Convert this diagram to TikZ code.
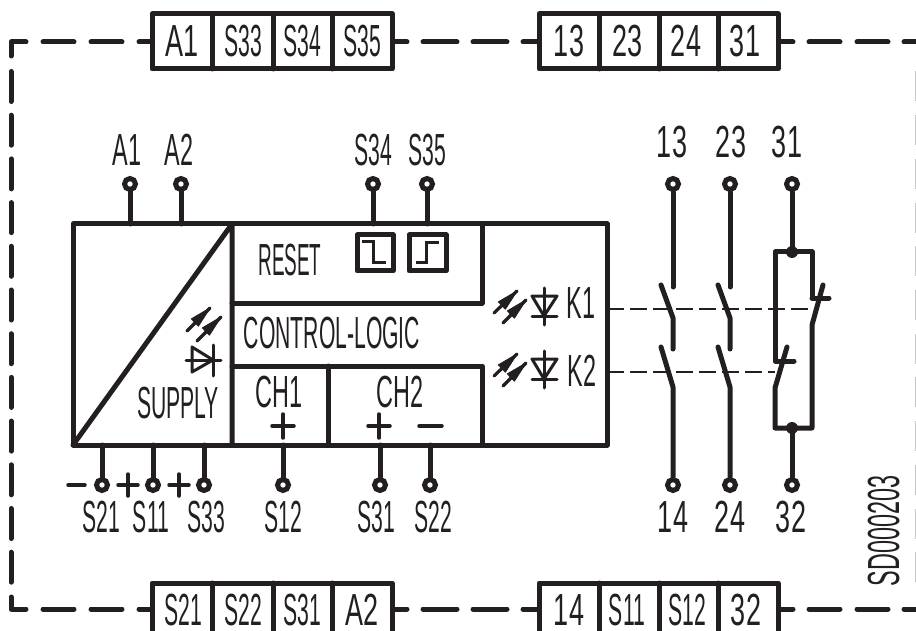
\documentclass[tikz,border=0pt]{standalone}
\usepackage{fontspec}
\newfontfamily\fa[FakeStretch=0.47]{Liberation Sans}
\newfontfamily\fb[FakeStretch=0.52]{Liberation Sans}
\newfontfamily\fc[FakeStretch=0.60]{Liberation Sans}
\newfontfamily\fd[FakeStretch=0.42]{Liberation Sans}
\definecolor{ink}{HTML}{231F20}
\tikzset{
  wire/.style={line width=5pt,line cap=round,line join=round,draw=ink},
  thin wire/.style={line width=3.5pt,line cap=round,line join=round,draw=ink},
  diode/.style={line width=3pt,line cap=round,line join=round,draw=ink},
  frame/.style={line width=5pt,line cap=round,line join=round,draw=ink},
  term/.style={circle,draw=ink,fill=white,line width=5pt,minimum size=11pt,inner sep=0pt},
  ttA/.style={inner sep=0pt,anchor=base,text=ink,font=\fa\fontsize{45}{45}\selectfont},
  ttB/.style={inner sep=0pt,anchor=base,text=ink,font=\fb\fontsize{45}{45}\selectfont},
  ttC/.style={inner sep=0pt,anchor=base,text=ink,font=\fc\fontsize{45}{45}\selectfont},
  ttD/.style={inner sep=0pt,anchor=base,text=ink,font=\fd\fontsize{45}{45}\selectfont},
  coupling/.style={line width=2.4pt,draw=ink,dash pattern=on 17pt off 6pt},
  border/.style={line width=5pt,line cap=round,line join=round,draw=ink},
  ghost/.style={line width=1.5pt,draw=black!22},
}
\newcommand{\ledarrow}[4]{%
  \draw[line width=3.2pt,line cap=round,draw=ink] (#1,#2) -- (#3,#4);
  \fill[ink,draw=ink,line width=1pt,line join=round] (#3,#4)
    -- (#3-11.6,#4+18.1)
    -- (#3-18.6,#4+10.9) -- cycle;
}
\begin{document}
\begin{tikzpicture}[x=1pt,y=-1pt]
\useasboundingbox (0,0) rectangle (916,631);
\clip (0,0) rectangle (916,631);
% dashed outer border
\coordinate (tl) at (11,42);
\coordinate (bl) at (11,609);
\draw[border] (26,42) -- (tl) -- (11,56);
\foreach \a/\b in {43/74,91/122,139/152,392/407,423/457,473/507,523/539,778/793,809/840,857/888,904/918}{
  \draw[border] (\a,42) -- (\b,42);
  \draw[border] (\a,609) -- (\b,609);
}
\foreach \i in {0,...,11}{
  \draw[border] (11,71.5+43.7*\i) -- (11,101.5+43.7*\i);
  \draw[ghost] (915.5,71.5+43.7*\i) -- (915.5,101.5+43.7*\i);
}
\draw[border] (11,597) -- (bl) -- (26,609);
% terminal strips
\draw[frame,fill=white] (152,14) rectangle (392,69);
\draw[frame,fill=white] (539,14) rectangle (778,69);
\draw[frame,fill=white] (152,583) rectangle (392,650);
\draw[frame,fill=white] (539,583) rectangle (778,650);
\foreach \x in {212,273,332,599,659,718}{
  \draw[frame] (\x,14) -- (\x,69);
  \draw[frame] (\x,583) -- (\x,650);
}
\node[ttC] (sA1) at (182,57) {A1};
\node[ttA] (sS33) at (243,57) {S33};
\node[ttA] (sS34) at (302,57) {S34};
\node[ttA] (sS35) at (362,57) {S35};
\node[ttC] (s13) at (569,57) {13};
\node[ttC] (s23) at (627.5,57) {23};
\node[ttC] (s24) at (686,57) {24};
\node[ttC] (s31) at (745,57) {31};
\node[ttA] (sS21) at (183,625) {S21};
\node[ttA] (sS22) at (243,625) {S22};
\node[ttA] (sS31) at (302,625) {S31};
\node[ttC] (sA2) at (362,625) {A2};
\node[ttC] (s14) at (569,625) {14};
\node[ttA] (sS11) at (627,625) {S11};
\node[ttA] (sS12) at (687,625) {S12};
\node[ttC] (s32) at (746,625) {32};
% main block
\draw[wire] (73,224) rectangle (607,445);
\draw[wire] (73,445) -- (232,224) -- (232,445);
\draw[wire] (232,303) -- (482,303) -- (482,224);
\draw[wire] (232,366) -- (482,366) -- (482,445);
\draw[wire] (328,366) -- (328,445);
% terminals
\foreach \n/\x in {A1/130,A2/181,S34/373,S35/427}{
  \draw[wire] (\x,184) -- (\x,224);
  \node[term] (t\n) at (\x,184) {};
}
\foreach \n/\x in {S21/102,S11/153,S33/204,S12/283,S31/380,S22/430}{
  \draw[wire] (\x,485) -- (\x,445);
  \node[term] (t\n) at (\x,485) {};
}
% labels
\node[ttB] (lA1) at (127,166) {A1};
\node[ttB] (lA2) at (179,166) {A2};
\node[ttA] (lS34) at (373,166) {S34};
\node[ttA] (lS35) at (427,166) {S35};
\node[ttC] (l13) at (672,158) {13};
\node[ttC] (l23) at (731,158) {23};
\node[ttC] (l31) at (787,158) {31};
\node[ttA] (lS21) at (101,532) {S21};
\node[ttA] (lS11) at (151,532) {S11};
\node[ttA] (lS33) at (206,532) {S33};
\node[ttA] (lS12) at (283,532) {S12};
\node[ttA] (lS31) at (376,532) {S31};
\node[ttA] (lS22) at (433,532) {S22};
\node[ttC] (l14) at (673,532) {14};
\node[ttC] (l24) at (730,532) {24};
\node[ttC] (l32) at (791,532) {32};
\node[ttB,rotate=90] (code) at (899,531) {SD000203};
\node[ttD] (reset) at (290,276) {RESET};
\node[ttA] (logic) at (332,348) {CONTROL-LOGIC};
\node[ttA] (supply) at (178,418) {SUPPLY};
\node[ttB] (ch1) at (279,407) {CH1};
\node[ttB] (ch2) at (400,407) {CH2};
\node[ttB] (k1) at (581,318) {K1};
\node[ttB] (k2) at (582,386) {K2};
% plus and minus
\draw[thin wire] (272,426) -- (294,426) (283,414) -- (283,438);
\draw[thin wire] (368,426) -- (390,426) (379,414) -- (379,438);
\draw[thin wire] (419,426) -- (442,426);
\draw[thin wire] (68,485) -- (85,485);
\draw[thin wire] (118,485) -- (138,485) (128,474) -- (128,496);
\draw[thin wire] (169,485) -- (189,485) (179,474) -- (179,496);
% reset symbols
\draw[frame] (357,235) rectangle (393,271);
\draw[frame] (409,235) rectangle (446,271);
\draw[line width=3pt,draw=ink] (362,242) -- (373,242) -- (373,263) -- (386,263);
\draw[line width=3pt,draw=ink] (416,263) -- (426,263) -- (426,243) -- (439,243);
% LEDs in the supply part
\ledarrow{187}{331}{210}{308}
\ledarrow{197}{341}{221}{317}
\draw[diode] (186,360) -- (221,360);
\draw[diode] (192,347) -- (192,372) -- (213,360) -- cycle;
\draw[diode] (213,345) -- (213,376);
% LEDs K1 K2
\foreach \d in {0,63}{
  \ledarrow{494}{313+\d}{517}{291+\d}
  \ledarrow{503}{323+\d}{526}{300+\d}
  \draw[diode] (544,288+\d) -- (544,325+\d);
  \draw[diode] (532,296+\d) -- (557,296+\d) -- (544,316+\d) -- cycle;
  \draw[diode] (532,316+\d) -- (557,316+\d);
}
% contact terminals
\node[term] (t13) at (673,184) {};
\node[term] (t23) at (730,184) {};
\node[term] (t31) at (792,184) {};
\node[term] (t14) at (673,485) {};
\node[term] (t24) at (730,485) {};
\node[term] (t32) at (792,485) {};
% contacts
\foreach \c/\p/\q in {673/t13/t14,730/t23/t24}{
  \draw[wire] (\p.south) -- (\c,287);
  \draw[wire] (\c-12,285) -- (\c,318) -- (\c,349);
  \draw[wire] (\c-12,347) -- (\c,387) -- (\q.north);
}
\draw[wire] (t31.south) -- (792,252);
\draw[wire] (t32.north) -- (792,428);
\fill[ink] (792,252) circle (6pt) (792,428) circle (6pt);
\draw[wire] (812,298) -- (812,252) -- (775,252) -- (775,361) -- (794,361);
\draw[wire] (829,298) -- (812,298);
\draw[wire] (823,285) -- (812,325) -- (812,428) -- (775,428) -- (775,388) -- (787,347);
% mechanical coupling
\draw[coupling] (607,309) -- (812,309);
\draw[coupling] (607,372) -- (775,372);
\end{tikzpicture}
\end{document}
